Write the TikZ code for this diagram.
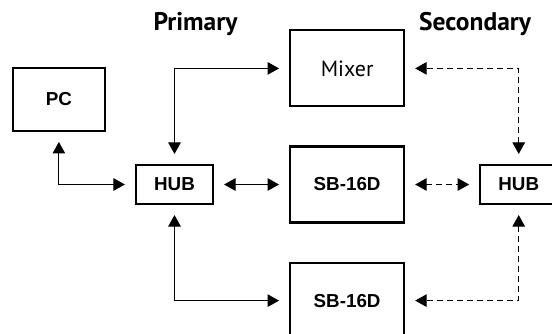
\documentclass[tikz,border=0pt]{standalone}
\usepackage{fontspec}
\setmainfont{Liberation Sans}
\newfontfamily\labelfont{PT Sans}
\usetikzlibrary{arrows.meta,positioning}

\begin{document}
\begin{tikzpicture}[
    > = {Triangle[length=2.3mm,width=2.5mm]}, % arrow head style
    shorten > = 2mm, % keep arrow heads off the boxes
    shorten < = 2mm,
    node distance = 1.5cm, % distance between nodes
    semithick % line style
    ]

    \tikzset{box/.style={
    draw = black,
    line width = 1.2pt,
    fill = white,
    font = \fontsize{10.7}{12}\selectfont\bfseries,
    minimum width = 2.28cm,
    minimum height = 1.52cm
    },
    smallbox/.style={box, minimum width = 1.54cm, minimum height = 0.78cm},
    title/.style={anchor=base, font=\labelfont\fontsize{14.5}{16}\selectfont\bfseries},
    dashlink/.style={dash pattern=on 3.3pt off 2.4pt}
    }
    \useasboundingbox (-3.49,-2.97) rectangle (7.55,3.69);
    \clip (-3.49,-2.97) rectangle (7.55,3.69);

    \node[smallbox] (hub1) at (0,0) {HUB};
    \node[box] (sb1) [right=of hub1] {SB-16D};
    \node[smallbox] (hub2) [right=1.48cm of sb1] {HUB};
    \node[box,font=\labelfont\fontsize{12.5}{14}\selectfont] (mixer) [above=0.76cm of sb1] {Mixer};
    \node[box] (sb2) [below=0.76cm of sb1] {SB-16D};
    \node[box,minimum width=1.84cm,minimum height=1.26cm] (pc)
        [above left=0.64cm and 0.58cm of hub1] {PC};

    \node[title] (primary) at (0.42,3.09) {Primary};
    \node[title] (secondary) at (6.01,3.09) {Secondary};

    % primary links
    \draw[<->] (pc) |- (hub1);
    \draw[<->] (hub1) -- (sb1);
    \draw[<->] (hub1) |- (mixer);
    \draw[<->] (hub1) |- (sb2);

    % secondary links
    \draw[<->,dashlink] (sb1) -- (hub2);
    \draw[<->,dashlink] (hub2) |- (mixer);
    \draw[<->,dashlink] (hub2) |- (sb2);
\end{tikzpicture}
\end{document}
